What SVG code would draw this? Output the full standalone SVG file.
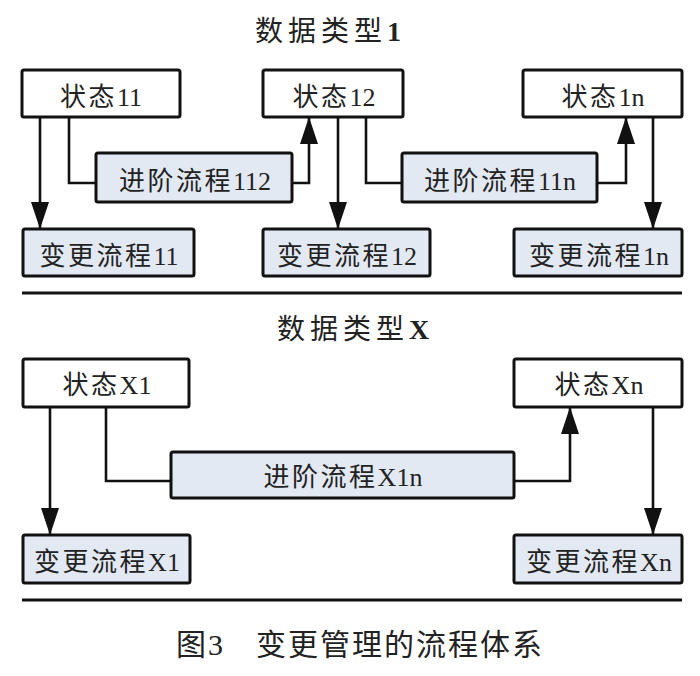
<svg xmlns="http://www.w3.org/2000/svg" width="700" height="676" viewBox="0 0 700 676">
  <style>
    .box { stroke: #111; stroke-width: 3; fill: #ffffff; }
    .blue { fill: #e3e9f3; }
    .lbl { font-family: "Liberation Serif", "Noto Sans CJK SC", serif; font-size: 26px; fill: #222; text-anchor: middle; }
    .cjk { letter-spacing: 2.5px; }
    .title { font-family: "Liberation Serif", "Noto Sans CJK SC", serif; font-size: 28px; fill: #222; text-anchor: middle; }
    .tcjk { letter-spacing: 5px; }
    .cap { font-family: "Liberation Serif", "Noto Sans CJK SC", serif; font-size: 30px; letter-spacing: 2px; fill: #222; }
    .conn { stroke: #111; stroke-width: 2.6; fill: none; }
    .sep { stroke: #111; stroke-width: 3; }
  </style>
  <defs>
    <marker id="arr" markerUnits="userSpaceOnUse" viewBox="0 0 27 18" markerWidth="27" markerHeight="18" refX="27" refY="9" orient="auto">
      <path d="M0,0 L27,9 L0,18 z" fill="#111"/>
    </marker>
  </defs>
  <rect width="700" height="676" fill="#ffffff"/>

  <text class="title" x="328" y="41"><tspan class="tcjk">数据类型</tspan><tspan font-weight="bold">1</tspan></text>
  <text class="title" x="353" y="339"><tspan class="tcjk">数据类型</tspan><tspan font-weight="bold">X</tspan></text>

  <g id="connectors">
    <line class="conn" x1="40" y1="117" x2="40" y2="229" marker-end="url(#arr)"/>
    <path class="conn" d="M69,117 V183 H96"/>
    <path class="conn" d="M292,183 H309 V117" marker-end="url(#arr)"/>
    <line class="conn" x1="338" y1="117" x2="338" y2="229" marker-end="url(#arr)"/>
    <path class="conn" d="M366,117 V183 H402"/>
    <path class="conn" d="M597,183 H626 V117" marker-end="url(#arr)"/>
    <line class="conn" x1="653" y1="117" x2="653" y2="229" marker-end="url(#arr)"/>

    <line class="conn" x1="50" y1="407" x2="50" y2="535" marker-end="url(#arr)"/>
    <path class="conn" d="M106,407 V481 H171"/>
    <path class="conn" d="M514,481 H570 V407" marker-end="url(#arr)"/>
    <line class="conn" x1="653" y1="407" x2="653" y2="535" marker-end="url(#arr)"/>
  </g>

  <g id="separators">
    <line class="sep" x1="22" y1="293" x2="682" y2="293"/>
    <line class="sep" x1="22" y1="600" x2="682" y2="600"/>
  </g>

  <g id="state11"><rect class="box" x="22" y="70" width="158" height="47" rx="2"/><text class="lbl" x="101" y="106"><tspan class="cjk">状态</tspan>11</text></g>
  <g id="adv112"><rect class="box blue" x="96" y="153" width="196" height="49" rx="2"/><text class="lbl" x="195" y="190"><tspan class="cjk">进阶流程</tspan>112</text></g>
  <g id="chg11"><rect class="box blue" x="23" y="229" width="171" height="47" rx="2"/><text class="lbl" x="109" y="265"><tspan class="cjk">变更流程</tspan>11</text></g>
  <g id="state12"><rect class="box" x="263" y="70" width="140" height="47" rx="2"/><text class="lbl" x="334" y="106"><tspan class="cjk">状态</tspan>12</text></g>
  <g id="chg12"><rect class="box blue" x="263" y="229" width="167" height="47" rx="2"/><text class="lbl" x="347" y="265"><tspan class="cjk">变更流程</tspan>12</text></g>
  <g id="adv11n"><rect class="box blue" x="402" y="153" width="195" height="49" rx="2"/><text class="lbl" x="500" y="190"><tspan class="cjk">进阶流程</tspan>11n</text></g>
  <g id="state1n"><rect class="box" x="523" y="70" width="159" height="47" rx="2"/><text class="lbl" x="603" y="106"><tspan class="cjk">状态</tspan>1n</text></g>
  <g id="chg1n"><rect class="box blue" x="514" y="229" width="168" height="47" rx="2"/><text class="lbl" x="599" y="265"><tspan class="cjk">变更流程</tspan>1n</text></g>

  <g id="stateX1"><rect class="box" x="23" y="359" width="166" height="48" rx="2"/><text class="lbl" x="107" y="394"><tspan class="cjk">状态</tspan>X1</text></g>
  <g id="advX1n"><rect class="box blue" x="171" y="452" width="343" height="46" rx="2"/><text class="lbl" x="343" y="486"><tspan class="cjk">进阶流程</tspan>X1n</text></g>
  <g id="chgX1"><rect class="box blue" x="23" y="535" width="167" height="48" rx="2"/><text class="lbl" x="107" y="571"><tspan class="cjk">变更流程</tspan>X1</text></g>
  <g id="stateXn"><rect class="box" x="514" y="359" width="168" height="48" rx="2"/><text class="lbl" x="599" y="394"><tspan class="cjk">状态</tspan>Xn</text></g>
  <g id="chgXn"><rect class="box blue" x="514" y="535" width="168" height="48" rx="2"/><text class="lbl" x="599" y="571"><tspan class="cjk">变更流程</tspan>Xn</text></g>

  <text class="cap" y="655"><tspan x="176">图3</tspan><tspan x="256">变更管理的流程体系</tspan></text>
</svg>
